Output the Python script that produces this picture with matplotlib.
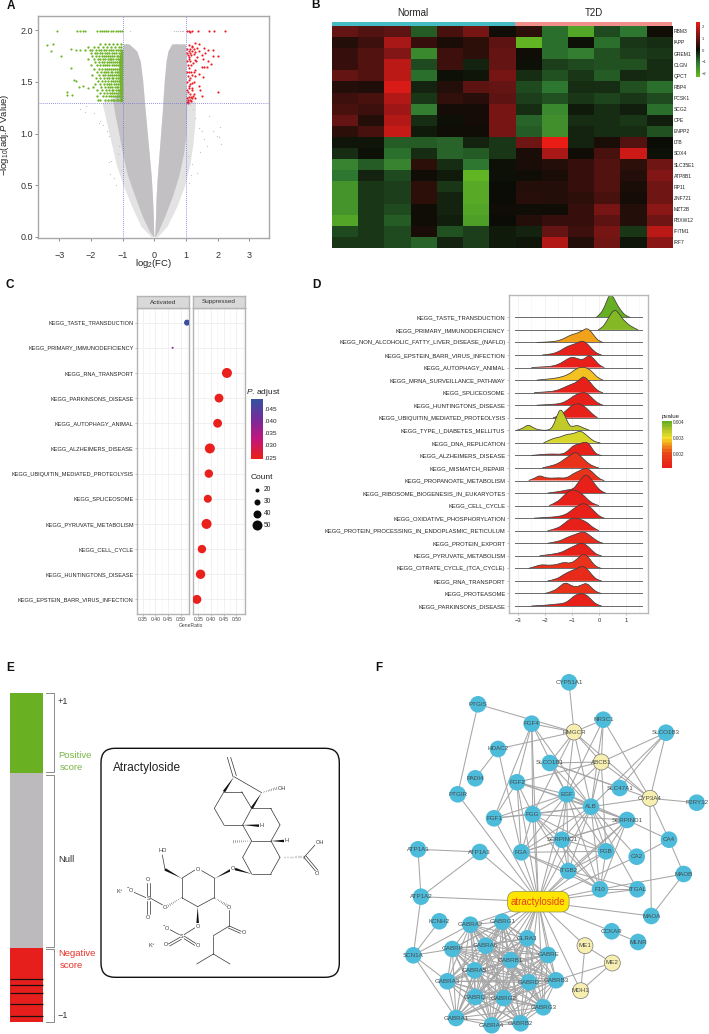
import itertools
import numpy as np
import matplotlib
matplotlib.use('Agg')
import matplotlib.pyplot as plt
from matplotlib.colors import LinearSegmentedColormap, Normalize
from matplotlib.patches import FancyBboxPatch, Polygon, Circle, PathPatch
from matplotlib.path import Path

plt.rcParams['font.family'] = ['Liberation Sans', 'DejaVu Sans']
plt.rcParams['mathtext.fontset'] = 'custom'
plt.rcParams['mathtext.rm'] = 'Liberation Sans'
plt.rcParams['mathtext.it'] = 'Liberation Sans:italic'

W, H = 709, 1034

# A: volcano, outline of the grey cloud and the points that can be read
grey_y = [0.0, 0.05, 0.2, 0.4, 0.6, 0.8, 1.0, 1.2, 1.3, 1.5, 1.7, 1.8, 1.87]
grey_left_out = [-0.02, -0.15, -0.38, -0.62, -0.85, -1.0, -1.12, -1.25, -1.3, -1.0, -1.0, -1.0, -0.98]
grey_left_in = [-0.01, -0.02, -0.03, -0.06, -0.1, -0.16, -0.22, -0.28, -0.31, -0.36, -0.44, -0.55, -0.8]
grey_right_in = [0.01, 0.02, 0.04, 0.06, 0.1, 0.15, 0.2, 0.25, 0.27, 0.31, 0.37, 0.43, 0.55]
grey_right_out = [0.02, 0.12, 0.33, 0.58, 0.78, 0.92, 1.0, 1.02, 1.02, 1.0, 1.0, 1.0, 0.98]
halo_y = [0.0, 0.1, 0.3, 0.5, 0.7, 0.9, 1.1, 1.3, 1.4]
halo_left = [-0.1, -0.42, -0.72, -0.98, -1.2, -1.35, -1.5, -1.65, -1.0]
halo_right = [0.1, 0.4, 0.72, 0.96, 1.12, 1.22, 1.28, 1.3, 1.02]

grey_x = [0.62, 0.68, 0.74, 0.8, 0.86, 0.92, -0.9, -0.78, -0.75, 0.7, 0.55, 0.58, -2.35, -2.2, -2.15, -1.9, -1.75,
          -1.7, -1.62, -1.5, -1.42, -1.38, -1.4, -1.28, -1.2, -1.42, -1.12, 1.12, 1.22, 1.3, 1.4, 1.5, 1.72, 1.58, 2.08,
          2.05, 2.12, 1.98, 1.85, 1.65, 1.45, 1.35, 1.2, 1.1, -0.65, -0.55, -0.58, -1.15, -1.05, 0.95, 1.05, 1.15]
grey_y2 = [1.99, 1.99, 1.99, 1.99, 1.99, 1.99, 1.87, 1.99, 1.84, 1.87, 1.84, 1.83, 1.24, 1.21, 1.27, 1.2, 1.1,
           1.12, 1.08, 1.02, 0.72, 0.73, 0.61, 0.57, 0.5, 0.98, 0.88, 1.28, 1.24, 1.15, 1.05, 1.02, 1.17, 0.95, 1.06,
           0.97, 0.9, 0.98, 1.02, 0.88, 0.82, 0.62, 0.7, 0.52, 1.82, 1.75, 1.7, 0.8, 0.65, 0.95, 0.78, 0.6]

green_core_y = [1.31, 1.45, 1.6, 1.72, 1.82]
green_core_x = [-1.08, -1.1, -1.12, -1.12, -1.06]
green_x = [-3.4, -3.19, -3.26, -2.95, -2.64, -2.47, -2.35, -2.64, -2.54, -2.47, -2.77, -2.75, -2.61, -2.37, -2.24, -2.08,
           -3.07, -2.43, -2.35, -2.25, -2.2, -1.82, -1.72, -1.65, -1.6, -1.52, -1.45, -1.38, -1.3, -1.22, -1.15, -1.08, -1.02]
green_y = [1.854, 1.867, 1.796, 1.754, 1.819, 1.806, 1.812, 1.634, 1.521, 1.511, 1.401, 1.369, 1.375, 1.45, 1.463, 1.44,
           1.99, 1.99, 1.99, 1.99, 1.99, 1.99, 1.99, 1.99, 1.99, 1.99, 1.99, 1.99, 1.99, 1.99, 1.99, 1.99, 1.99]
# rows of the dense green part: level, then x read along that level
green_rows = [
    (1.87, [-1.72, -1.55, -1.42, -1.3, -1.18, -1.05]),
    (1.84, [-2.1, -1.9, -1.78, -1.62, -1.48, -1.36, -1.24, -1.12, -1.04]),
    (1.81, [-2.2, -2.02, -1.95, -1.84, -1.76, -1.68, -1.6, -1.52, -1.44, -1.38, -1.3, -1.22, -1.16, -1.08]),
    (1.78, [-2.0, -1.88, -1.8, -1.72, -1.65, -1.57, -1.5, -1.42, -1.34, -1.27, -1.2, -1.12, -1.04]),
    (1.75, [-1.96, -1.84, -1.75, -1.66, -1.6, -1.53, -1.46, -1.4, -1.33, -1.26, -1.19, -1.14, -1.07]),
    (1.72, [-2.08, -1.9, -1.79, -1.7, -1.62, -1.55, -1.47, -1.41, -1.36, -1.29, -1.22, -1.16, -1.09]),
    (1.69, [-1.86, -1.73, -1.65, -1.58, -1.5, -1.44, -1.37, -1.31, -1.24, -1.18, -1.12]),
    (1.66, [-2.0, -1.82, -1.7, -1.62, -1.55, -1.48, -1.42, -1.34, -1.27, -1.21, -1.14, -1.06]),
    (1.63, [-1.9, -1.76, -1.66, -1.56, -1.5, -1.43, -1.36, -1.3, -1.23, -1.17, -1.1]),
    (1.6, [-1.82, -1.68, -1.6, -1.52, -1.46, -1.38, -1.32, -1.25, -1.19, -1.13]),
    (1.57, [-1.95, -1.75, -1.63, -1.54, -1.47, -1.4, -1.33, -1.27, -1.2, -1.14, -1.07]),
    (1.54, [-1.85, -1.7, -1.58, -1.49, -1.42, -1.35, -1.29, -1.22, -1.15, -1.09]),
    (1.51, [-1.78, -1.64, -1.55, -1.46, -1.38, -1.31, -1.25, -1.18, -1.12]),
    (1.48, [-1.88, -1.72, -1.6, -1.5, -1.43, -1.36, -1.28, -1.21, -1.15, -1.08]),
    (1.45, [-1.94, -1.68, -1.57, -1.47, -1.39, -1.32, -1.25, -1.19, -1.13]),
    (1.42, [-1.8, -1.65, -1.52, -1.44, -1.35, -1.3, -1.22, -1.16, -1.1]),
    (1.39, [-1.72, -1.58, -1.48, -1.4, -1.33, -1.27, -1.2, -1.14, -1.06]),
    (1.36, [-1.82, -1.62, -1.53, -1.43, -1.36, -1.29, -1.23, -1.17, -1.11]),
    (1.33, [-1.78, -1.7, -1.55, -1.46, -1.38, -1.31, -1.26, -1.19, -1.13, -1.07]),
]

red_x = [1.02, 1.08, 1.12, 1.2, 1.38, 1.72, 1.88, 2.23,
         1.08, 1.3, 1.4, 1.18, 1.58, 1.7, 1.85, 1.85, 2.0, 1.5, 1.6, 1.53, 1.42, 1.7, 1.78, 1.57, 1.66, 1.5, 1.3, 1.42, 1.55, 1.3, 1.2, 1.4, 2.0, 1.5, 1.2, 1.05,
         1.02, 1.04, 1.06, 1.08, 1.1, 1.12, 1.14, 1.16, 1.18, 1.2, 1.24, 1.26, 1.3, 1.34, 1.02, 1.05, 1.08, 1.11, 1.14, 1.17, 1.22, 1.28, 1.36, 1.02, 1.05, 1.08, 1.12, 1.15, 1.2, 1.25, 1.32, 1.04, 1.08, 1.1, 1.14, 1.18, 1.24, 1.02, 1.06, 1.1, 1.13, 1.18, 1.26, 1.03, 1.07, 1.1, 1.15, 1.22, 1.04, 1.07, 1.12, 1.16, 1.28, 1.45]
red_y = [1.99, 1.99, 1.98, 1.99, 1.99, 1.99, 1.99, 1.99,
         1.86, 1.88, 1.87, 1.85, 1.83, 1.81, 1.81, 1.75, 1.75, 1.76, 1.78, 1.72, 1.8, 1.7, 1.67, 1.65, 1.65, 1.65, 1.62, 1.58, 1.55, 1.56, 1.49, 1.46, 1.4, 1.36, 1.34, 1.31,
         1.78, 1.82, 1.76, 1.8, 1.74, 1.78, 1.82, 1.76, 1.8, 1.84, 1.77, 1.82, 1.79, 1.83, 1.7, 1.66, 1.72, 1.64, 1.7, 1.66, 1.68, 1.71, 1.74, 1.6, 1.56, 1.6, 1.54, 1.6, 1.57, 1.6, 1.7, 1.5, 1.46, 1.52, 1.48, 1.44, 1.5, 1.42, 1.4, 1.44, 1.38, 1.42, 1.38, 1.34, 1.33, 1.35, 1.35, 1.36, 1.31, 1.3, 1.33, 1.32, 1.34, 1.42]

# B: heat map
genes = ['RBM3', 'IAPP', 'GREM1', 'CLGN', 'QPCT', 'RBP4', 'PCSK1', 'SCG2', 'CPE', 'ENPP2',
         'LTB', 'SOX4', 'SLC35E1', 'ATP8B1', 'RP11', 'ZNF721', 'MZT2B', 'FBXW12', 'IFITM1', 'IRF7']
expr = [[1.0, .8, .9, -.8, .7, 1.2, .1, .4, -1.0, -1.9, -.6, -1.1, .1],
        [.3, .6, 1.7, .5, .2, .4, .9, -2.2, -1.0, 0.0, -1.0, -.4, -.3],
        [.5, .8, 1.3, -1.4, .6, .4, 1.0, .1, -1.0, -1.2, -.7, -.5, -.4],
        [.5, .8, 1.9, -.6, .6, -.2, 1.0, 0.0, -.5, -.6, -.7, -.7, -.3],
        [1.0, .8, 1.9, -1.0, 0.0, -.05, 1.2, -.3, -.7, -.4, -.8, -.25, -.3],
        [.3, .25, 2.2, -.2, .3, .9, 1.0, -.6, -1.1, -.3, -.3, -.7, -1.0],
        [.6, .7, 1.8, -.4, .45, .35, .9, -.5, -.7, -.4, -.55, -.4, -.6],
        [.7, .6, 1.6, -1.2, .15, .15, 1.2, -.3, -1.4, -.1, -.3, -.15, -1.0],
        [1.0, .3, 1.8, -.3, 0.0, .15, 1.2, -.9, -1.5, -.3, -.3, -.4, -.15],
        [.4, .7, 2.0, -.1, .1, .1, 1.2, -.8, -1.5, -.2, -.3, -.3, -.7],
        [-.05, -.05, -.8, -.8, -.9, -.2, -.4, 1.1, 2.4, -.2, .2, .8, .05],
        [-.3, 0.0, -1.0, -.3, -.9, -.8, -.4, .2, 1.7, .1, .7, 2.1, 0.0],
        [-1.3, -.8, -1.3, .4, -.3, -1.1, 0.0, .2, .3, .5, .8, .4, 1.1],
        [-1.1, -.2, -.6, .1, -.1, -2.2, 0.0, .1, .2, .5, .8, .3, 1.3],
        [-1.6, -.4, -.5, .4, -.4, -2.0, .05, .3, .3, .5, .8, .2, 1.1],
        [-1.6, -.4, -.5, .4, -.2, -2.0, .05, .35, .3, .4, .7, .15, 1.1],
        [-1.6, -.4, -.6, .1, -.2, -1.9, .1, .1, .1, .5, 1.2, .3, 1.4],
        [-1.9, -.4, -.8, .1, -.15, -1.8, .05, .3, .5, .5, .9, .3, 1.1],
        [-.6, -.4, -.6, .2, -.7, -.5, -.1, -.2, 1.0, .6, 1.2, -.4, 1.9],
        [-.4, -.4, -.6, -.9, -.2, -.5, -.1, -.05, 1.8, .3, 1.1, -.05, 1.4]]
n_normal = 7

# C: gsea dot plot
c_terms = ['KEGG_TASTE_TRANSDUCTION', 'KEGG_PRIMARY_IMMUNODEFICIENCY', 'KEGG_RNA_TRANSPORT', 'KEGG_PARKINSONS_DISEASE',
           'KEGG_AUTOPHAGY_ANIMAL', 'KEGG_ALZHEIMERS_DISEASE', 'KEGG_UBIQUITIN_MEDIATED_PROTEOLYSIS', 'KEGG_SPLICEOSOME',
           'KEGG_PYRUVATE_METABOLISM', 'KEGG_CELL_CYCLE', 'KEGG_HUNTINGTONS_DISEASE', 'KEGG_EPSTEIN_BARR_VIRUS_INFECTION']
c_ratio = [.525, .468, .463, .432, .4265, .396, .392, .388, .383, .365, .3595, .345]
c_count = [30, 10, 50, 44, 44, 50, 42, 40, 50, 42, 47, 45]
c_padj = [.048, .040, .025, .025, .025, .025, .025, .025, .025, .025, .025, .025]
c_facet = [0, 0, 1, 1, 1, 1, 1, 1, 1, 1, 1, 1]
count_legend = [20, 30, 40, 50]

# D: ridge plot, x and height (in rows) read along every ridge
d_terms = ['KEGG_TASTE_TRANSDUCTION', 'KEGG_PRIMARY_IMMUNODEFICIENCY', 'KEGG_NON_ALCOHOLIC_FATTY_LIVER_DISEASE_(NAFLD)',
           'KEGG_EPSTEIN_BARR_VIRUS_INFECTION', 'KEGG_AUTOPHAGY_ANIMAL', 'KEGG_MRNA_SURVEILLANCE_PATHWAY', 'KEGG_SPLICEOSOME',
           'KEGG_HUNTINGTONS_DISEASE', 'KEGG_UBIQUITIN_MEDIATED_PROTEOLYSIS', 'KEGG_TYPE_I_DIABETES_MELLITUS',
           'KEGG_DNA_REPLICATION', 'KEGG_ALZHEIMERS_DISEASE', 'KEGG_MISMATCH_REPAIR', 'KEGG_PROPANOATE_METABOLISM',
           'KEGG_RIBOSOME_BIOGENESIS_IN_EUKARYOTES', 'KEGG_CELL_CYCLE', 'KEGG_OXIDATIVE_PHOSPHORYLATION',
           'KEGG_PROTEIN_PROCESSING_IN_ENDOPLASMIC_RETICULUM', 'KEGG_PROTEIN_EXPORT', 'KEGG_PYRUVATE_METABOLISM',
           'KEGG_CITRATE_CYCLE_(TCA_CYCLE)', 'KEGG_RNA_TRANSPORT', 'KEGG_PROTEASOME', 'KEGG_PARKINSONS_DISEASE']
d_pvalue = [.0040, .0037, .0025, .0012, .0012, .0027, .0012, .0013, .0012, .0033, .0031, .0012, .0017, .0016,
            .0013, .0012, .0012, .0012, .0014, .0013, .0017, .0014, .0017, .0012]
d_ridges = [
    [(-.1, 0), (.05, .25), (.2, .8), (.33, 1.55), (.43, 1.9), (.55, 1.55), (.7, .9), (.85, .45), (1.0, .1), (1.15, 0)],
    [(-.03, 0), (.1, .15), (.25, .55), (.4, 1.15), (.55, 1.6), (.68, 1.5), (.85, .95), (1.0, .6), (1.2, .25), (1.45, 0)],
    [(-2.3, 0), (-1.9, .03), (-1.55, .1), (-1.3, .3), (-1.05, .6), (-.85, .7), (-.6, .95), (-.45, 1.15), (-.3, .9), (-.15, .45), (0, .1), (.15, 0)],
    [(-2.1, 0), (-1.8, .05), (-1.5, .25), (-1.25, .6), (-1.05, .78), (-.8, .95), (-.64, 1.15), (-.45, .95), (-.25, .45), (-.05, .08), (.1, 0)],
    [(-2.5, 0), (-2.1, .05), (-1.7, .1), (-1.4, .35), (-1.2, .65), (-1.0, .85), (-.8, .72), (-.62, .6), (-.45, .85), (-.33, 1.0), (-.15, .6), (.05, .1), (.2, 0)],
    [(-2.3, 0), (-1.9, .08), (-1.6, .15), (-1.3, .3), (-1.05, .55), (-.85, .9), (-.65, 1.05), (-.4, .95), (-.2, .55), (0, .1), (.15, 0)],
    [(-2.4, 0), (-2.0, .05), (-1.6, .13), (-1.3, .4), (-1.05, .65), (-.85, .8), (-.65, 1.18), (-.55, 1.3), (-.35, .9), (-.15, .35), (.05, .03), (.15, 0)],
    [(-2.3, 0), (-1.8, .05), (-1.4, .13), (-1.15, .4), (-.9, .8), (-.6, 1.06), (-.4, .9), (-.2, .45), (0, .1), (.15, 0)],
    [(-1.7, 0), (-1.45, .15), (-1.2, .6), (-1.0, 1.0), (-.8, 1.15), (-.6, 1.0), (-.4, .65), (-.2, .2), (-.05, 0)],
    [(-3.05, 0), (-2.85, .1), (-2.62, .48), (-2.4, .15), (-2.15, 0), (-1.85, 0), (-1.7, .3), (-1.55, 1.2), (-1.42, 1.75), (-1.25, 1.15), (-1.1, .35), (-.95, .3), (-.8, .42), (-.6, .2), (-.35, 0)],
    [(-2.05, 0), (-1.85, .2), (-1.65, .38), (-1.45, .45), (-1.2, .68), (-.95, .72), (-.7, .98), (-.5, .7), (-.3, .3), (-.1, .03), (.05, 0)],
    [(-2.5, 0), (-2.1, .08), (-1.7, .12), (-1.35, .08), (-1.15, .35), (-.95, .8), (-.75, .9), (-.5, 1.1), (-.35, .9), (-.2, .35), (-.05, .03), (.1, 0)],
    [(-2.1, 0), (-1.8, .15), (-1.5, .35), (-1.25, .75), (-1.0, 1.1), (-.87, 1.28), (-.7, 1.0), (-.45, .45), (-.2, .1), (0, 0)],
    [(-2.6, 0), (-2.35, .2), (-2.2, .42), (-2.0, .22), (-1.75, .18), (-1.5, .22), (-1.2, .18), (-.95, .55), (-.7, .8), (-.5, 1.02), (-.3, .8), (-.1, .35), (.1, .03), (.2, 0)],
    [(-1.9, 0), (-1.5, .1), (-1.2, .25), (-.95, .3), (-.8, .75), (-.6, 1.3), (-.47, 1.5), (-.3, 1.15), (-.1, .55), (.1, .1), (.25, 0)],
    [(-1.85, 0), (-1.55, .25), (-1.3, .8), (-1.05, 1.27), (-.85, 1.22), (-.6, .9), (-.4, .45), (-.2, .12), (0, 0)],
    [(-2.4, 0), (-2.0, .05), (-1.6, .1), (-1.25, .25), (-1.0, .65), (-.75, 1.05), (-.55, 1.2), (-.35, .95), (-.15, .5), (.05, .08), (.2, 0)],
    [(-1.9, 0), (-1.55, .15), (-1.3, .55), (-1.05, .98), (-.85, 1.02), (-.6, .85), (-.4, .6), (-.2, .2), (0, 0)],
    [(-1.9, 0), (-1.5, .12), (-1.2, .45), (-.95, .65), (-.7, .85), (-.55, .92), (-.35, .65), (-.15, .3), (.05, .05), (.15, 0)],
    [(-2.2, 0), (-1.8, .1), (-1.4, .25), (-1.15, .55), (-.9, .8), (-.65, 1.06), (-.45, .85), (-.25, .4), (-.05, .05), (.1, 0)],
    [(-2.6, 0), (-2.35, .15), (-2.15, .3), (-1.85, .24), (-1.55, .3), (-1.3, .5), (-1.05, .38), (-.8, .75), (-.6, 1.18), (-.4, .95), (-.2, .3), (0, .03), (.1, 0)],
    [(-1.9, 0), (-1.6, .1), (-1.35, .45), (-1.1, .75), (-.85, .95), (-.62, 1.2), (-.45, 1.0), (-.25, .45), (-.05, .05), (.1, 0)],
    [(-2.0, 0), (-1.7, .15), (-1.45, .55), (-1.25, .9), (-1.05, .65), (-.85, .5), (-.62, .7), (-.45, .84), (-.25, .4), (-.05, .05), (.1, 0)],
    [(-2.5, 0), (-2, .05), (-1.6, .15), (-1.3, .2), (-1.1, .45), (-.9, .85), (-.7, 1.0), (-.5, .95), (-.3, .55), (-.1, .1), (.1, 0)],
]

# E: score bar, in page pixels
bar_tops = [693.3, 773, 948.3]
bar_bottoms = [773, 948.3, 1022]
bar_colors = ['#6ab023', '#bcbabc', '#e61f1c']
hit_lines = [978.7, 984.7, 993.3, 1004.3, 1016.3]

# atractyloside drawing, coordinates as read on a 3x crop of the panel
mol_bonds = [(682, 562, 699, 620), (692, 562, 709, 617), (702, 620, 785, 668), (672, 665, 725, 665), (725, 665, 755, 715),
             (672, 665, 643, 715), (643, 715, 672, 765), (672, 765, 728, 765), (728, 765, 755, 715), (755, 715, 812, 715),
             (812, 715, 840, 765), (840, 765, 813, 813), (813, 813, 755, 813), (755, 813, 728, 765), (813, 813, 840, 862),
             (840, 862, 812, 912), (812, 912, 755, 912), (755, 912, 728, 862), (728, 862, 755, 813), (912, 862, 945, 825),
             (912, 862, 948, 905), (918, 858, 954, 901), (645, 925, 605, 902), (585, 900, 545, 925), (545, 925, 545, 983),
             (545, 983, 593, 1010), (593, 1010, 643, 983), (643, 983, 643, 925), (495, 898, 487, 855), (490, 1006, 452, 985),
             (441, 980, 441, 938), (449, 980, 449, 938), (441, 992, 441, 1032), (449, 992, 449, 1032), (438, 983, 400, 966),
             (587, 1072, 552, 1094), (538, 1094, 508, 1078), (540, 1102, 505, 1122), (544, 1108, 509, 1128), (552, 1098, 587, 1120), (549, 1104, 584, 1126),
             (688, 1020, 688, 1068), (688, 1068, 724, 1084), (685, 1074, 721, 1090), (688, 1068, 640, 1097), (640, 1097, 640, 1152),
             (640, 1152, 590, 1182), (640, 1152, 690, 1182)]
mol_wedges = [(702, 620, 672, 665), (785, 668, 755, 715), (728, 765, 778, 767), (813, 813, 852, 813), (755, 912, 705, 897),
              (645, 925, 698, 897), (545, 925, 495, 898), (593, 1010, 593, 1060)]
mol_hashes = [(785, 668, 830, 655), (755, 813, 700, 815), (840, 862, 912, 862), (545, 983, 500, 1010), (643, 983, 682, 1007)]
mol_labels = [('OH', 846, 655), ('H', 784, 767), ('H', 861, 813), ('OH', 959, 816), ('O', 952, 910), ('O', 698, 897), ('O', 593, 898),
              ('HO', 487, 842), ('O', 445, 928), ('S', 445, 986), ('O', 445, 1042), ('O', 494, 1012), ('$^{-}$O', 390, 961), ('K$^{+}$', 360, 965),
              ('O', 593, 1068), ('S', 545, 1098), ('$^{-}$O', 498, 1073), ('O', 497, 1125), ('O', 595, 1127), ('K$^{+}$', 457, 1128), ('O', 687, 1012), ('O', 732, 1088)]

# F: network, positions in page pixels
net_pos = {'CYP51A1': (569, 682.3), 'PTGIS': (478, 704.3), 'FGF4': (531.7, 723.7), 'HMGCR': (574, 732), 'NR3C1': (603.3, 719.7),
           'SLCO1B3': (666, 732.7), 'HDAC2': (498, 749), 'ABCB1': (601.3, 762), 'SLCO1B1': (549.7, 763), 'PADI4': (475.3, 778.3),
           'FGF2': (517, 782.3), 'SLC47A1': (619.7, 788), 'EGF': (566.7, 794.3), 'PTGIR': (457.7, 794.3), 'CYP3A4': (650, 798.3),
           'P2RY12': (696.7, 802.7), 'ALB': (591, 806.7), 'FGG': (532.7, 814.3), 'FGF1': (494, 818.3), 'SERPIND1': (627, 820),
           'CA4': (669, 839.7), 'SERPINC1': (562, 839.7), 'ATP1A1': (418, 849.3), 'ATP1A3': (479.7, 852), 'FGA': (521.3, 852.3),
           'FGB': (606, 851.3), 'CA2': (636.7, 856.7), 'ITGB2': (568.3, 871), 'MAOB': (683.7, 874), 'F10': (600, 889.3),
           'ITGAL': (637.3, 889.3), 'ATP1A2': (421, 896.7), 'MAOA': (651.3, 916), 'KCNH2': (439.3, 921.3), 'GABRA2': (470.3, 924.7),
           'GABRG1': (502.3, 921.7), 'CCKAR': (611.7, 931.3), 'GLRA3': (527.3, 938.3), 'MLNR': (638, 942), 'ME1': (585, 945.7),
           'GABRA6': (485.7, 945.7), 'GABRP': (452.3, 949), 'SCN1A': (413.3, 955.3), 'GABRE': (548, 955), 'ME2': (612.3, 963),
           'GABRB1': (510.7, 960.3), 'GABRA5': (474.7, 970.3), 'GABRA3': (447.3, 981.3), 'GABRD': (529, 982.3), 'GABRB3': (556, 980.3),
           'MDH1': (580.7, 990.7), 'GABRQ': (475.3, 997), 'GABRG2': (503.7, 998), 'GABRG3': (543.3, 1007.3), 'GABRA1': (456, 1018),
           'GABRA4': (491.7, 1025.3), 'GABRB2': (520.7, 1023.3)}
yellow_nodes = ['HMGCR', 'ABCB1', 'CYP3A4', 'ME1', 'ME2', 'MDH1']
hub_pos = (538.3, 901.7)
hub_links = ['FGF1', 'FGF2', 'FGF4', 'FGG', 'FGA', 'ITGB2', 'SERPINC1', 'EGF', 'ALB', 'FGB', 'CA2', 'F10', 'ITGAL', 'PTGIR', 'ATP1A3',
             'ATP1A2', 'MAOA', 'SERPIND1', 'CCKAR', 'ME1', 'MDH1', 'GLRA3', 'GABRA2', 'GABRG1', 'GABRA6', 'GABRE', 'GABRB1', 'GABRA5',
             'GABRD', 'GABRB3', 'GABRQ', 'GABRG2', 'GABRG3', 'GABRP']
gaba_nodes = ['GABRA2', 'GABRG1', 'GLRA3', 'GABRA6', 'GABRP', 'GABRE', 'GABRB1', 'GABRA5', 'GABRA3', 'GABRD', 'GABRB3', 'GABRQ',
              'GABRG2', 'GABRG3', 'GABRA1', 'GABRA4', 'GABRB2']
core_nodes = ['EGF', 'ALB', 'FGG', 'FGA', 'FGB', 'SERPINC1', 'F10', 'ITGB2', 'SERPIND1']
net_links = [('HMGCR', 'CYP51A1'), ('HMGCR', 'PTGIS'), ('HMGCR', 'FGF4'), ('HMGCR', 'NR3C1'), ('HMGCR', 'HDAC2'), ('HMGCR', 'ABCB1'),
             ('HMGCR', 'SLCO1B1'), ('HMGCR', 'EGF'), ('HMGCR', 'ALB'), ('HMGCR', 'FGG'), ('HMGCR', 'CYP3A4'), ('FGF4', 'FGF2'), ('FGF4', 'FGF1'),
             ('FGF4', 'EGF'), ('FGF4', 'ALB'), ('FGF4', 'FGG'), ('PTGIS', 'PTGIR'), ('HDAC2', 'PADI4'), ('HDAC2', 'FGA'), ('NR3C1', 'CYP3A4'),
             ('NR3C1', 'ALB'), ('NR3C1', 'ABCB1'), ('NR3C1', 'EGF'), ('SLCO1B3', 'ABCB1'), ('SLCO1B3', 'CYP3A4'), ('SLCO1B3', 'SLC47A1'),
             ('SLCO1B3', 'ALB'), ('ABCB1', 'FGF2'), ('ABCB1', 'SLCO1B1'), ('ABCB1', 'CYP3A4'), ('ABCB1', 'ALB'), ('ABCB1', 'EGF'), ('ABCB1', 'FGB'),
             ('SLCO1B1', 'SLC47A1'), ('SLCO1B1', 'ALB'), ('SLCO1B1', 'EGF'), ('SLCO1B1', 'CYP3A4'), ('FGF2', 'EGF'), ('FGF2', 'ALB'), ('FGF2', 'FGF1'),
             ('FGF2', 'FGG'), ('FGF2', 'FGA'), ('FGF2', 'SERPIND1'), ('EGF', 'FGF1'), ('ALB', 'FGF1'), ('ALB', 'CA2'), ('ALB', 'ITGAL'), ('ALB', 'CYP3A4'),
             ('FGG', 'FGF1'), ('SERPIND1', 'CA4'), ('CA2', 'CA4'), ('ITGB2', 'ITGAL'), ('F10', 'ITGAL'), ('F10', 'MAOB'), ('CYP3A4', 'CA4'),
             ('CYP3A4', 'MAOA'), ('CYP3A4', 'P2RY12'), ('CA4', 'MAOB'), ('MAOB', 'MAOA'), ('ATP1A1', 'ATP1A3'), ('ATP1A1', 'ATP1A2'), ('ATP1A3', 'ATP1A2'),
             ('ATP1A2', 'SCN1A'), ('KCNH2', 'SCN1A'), ('SCN1A', 'GABRA2'), ('SCN1A', 'GABRP'), ('SCN1A', 'GABRA3'), ('SCN1A', 'GABRA1'), ('CCKAR', 'MLNR'),
             ('ME1', 'ME2'), ('ME1', 'MDH1'), ('ME2', 'MDH1'), ('ME2', 'GABRB3')]


def axpx(x0, y0, x1, y1):
    return fig.add_axes([x0 / W, 1 - y1 / H, (x1 - x0) / W, (y1 - y0) / H])


def ridge_path(xs, ys, closed=False):
    # the read points act as control points of a quadratic curve
    verts = [(xs[0], ys[0])]
    codes = [Path.MOVETO]
    for i in range(1, len(xs) - 1):
        end = ((xs[i] + xs[i + 1]) / 2, (ys[i] + ys[i + 1]) / 2) if i < len(xs) - 2 else (xs[-1], ys[-1])
        verts += [(xs[i], ys[i]), end]
        codes += [Path.CURVE3, Path.CURVE3]
    if closed:
        verts.append((xs[0], ys[0]))
        codes.append(Path.LINETO)
    return Path(verts, codes)


fig = plt.figure(figsize=(W / 100, H / 100), dpi=100)
page = fig.add_axes([0, 0, 1, 1])
page.set_xlim(0, W)
page.set_ylim(H, 0)
page.axis('off')

for letter, x, y in [('A', 11, 6), ('B', 316, 5), ('C', 10, 285), ('D', 316, 285), ('E', 10, 668), ('F', 379, 668)]:
    page.text(x, y, letter, fontsize=8.5, fontweight='bold', ha='center', va='center', color='#111111')

# ---- A
ax = axpx(38.3, 16, 269, 238)
ax.set_xlim(-3.66, 3.62)
ax.set_ylim(-0.013, 2.14)
ax.fill_betweenx(halo_y, halo_left, [0] * len(halo_y), color='#e4e3e4', lw=0)
ax.fill_betweenx(halo_y, [0] * len(halo_y), halo_right, color='#e4e3e4', lw=0)
ax.fill_betweenx(grey_y, grey_left_in, grey_right_in, color='white', lw=0)
ax.fill_betweenx(grey_y, grey_left_out, grey_left_in, color='#c2c0c2', lw=0)
ax.fill_betweenx(grey_y, grey_right_in, grey_right_out, color='#c2c0c2', lw=0)
ax.scatter(grey_x, grey_y2, s=0.8, color='#c4c2c4', lw=0)
ax.fill_betweenx(green_core_y, green_core_x, -1, color='#74b52c', lw=0)
row_x = [v for lvl, xs in green_rows for v in xs]
row_y = [lvl for lvl, xs in green_rows for v in xs]
ax.scatter(row_x, row_y, s=2.8, color='#6fb426', lw=0)
ax.scatter(green_x, green_y, s=2.4, color='#6fb426', lw=0)
ax.scatter(red_x, red_y, s=2.4, color='#ec1c24', lw=0)
for v in [-1, 1]:
    ax.axvline(v, color='#6f6fd8', lw=0.6, ls=(0, (1, 1.5)))
ax.axhline(1.3, color='#6f6fd8', lw=0.6, ls=(0, (1, 1.5)))
for s in ax.spines.values():
    s.set_color('#a8a8a8')
    s.set_linewidth(1.0)
ax.set_xticks([-3, -2, -1, 0, 1, 2, 3])
ax.set_xticklabels(['\u22123', '\u22122', '\u22121', '0', '1', '2', '3'])
ax.set_yticks([0, 0.5, 1, 1.5, 2])
ax.set_yticklabels(['0.0', '0.5', '1.0', '1.5', '2.0'])
ax.tick_params(labelsize=6.5, length=2, width=0.6, color='#777777', labelcolor='#333333', pad=7)
ax.tick_params(axis='y', pad=2)
page.text(154, 264, r'log$_2$(FC)', fontsize=6.8, ha='center', va='center', color='#222222')
page.text(5, 135, r'$-$log$_{10}$(adj.$\mathit{P}$ Value)', fontsize=6.8, rotation=90, ha='center', va='center', color='#222222')

# ---- B
heat_cmap = LinearSegmentedColormap.from_list('heat', ['#66bb22', '#2f7a32', '#0c0c06', '#7a1616', '#ea1c16'])
ax = axpx(331.7, 26.3, 672, 248.3)
ax.imshow(expr, cmap=heat_cmap, vmin=-2.3, vmax=2.4, aspect='auto', interpolation='nearest')
ax.axis('off')
for i, g in enumerate(genes):
    page.text(673.5, 26.3 + (i + 0.5) * 11.1, g, fontsize=3.6, va='center', color='#222222')
ax = axpx(331.7, 22, 672, 26)
ax.barh(0, n_normal, left=0, height=1, color='#45bcc4')
ax.barh(0, len(expr[0]) - n_normal, left=n_normal, height=1, color='#f28e8c')
ax.set_xlim(0, len(expr[0]))
ax.set_ylim(-0.5, 0.5)
ax.axis('off')
page.text(413, 12.7, 'Normal', fontsize=7, ha='center', va='center', color='#222222')
page.text(594, 12.7, 'T2D', fontsize=7, ha='center', va='center', color='#222222')
ax = axpx(696, 22, 700, 77)
ax.imshow(np.linspace(2.4, -2.3, 100).reshape(-1, 1), cmap=heat_cmap, vmin=-2.3, vmax=2.4, aspect='auto', extent=[0, 1, -2.3, 2.4])
ax.set_xticks([])
ax.yaxis.tick_right()
ax.set_yticks([-2, -1, 0, 1, 2])
ax.set_yticklabels(['\u22122', '\u22121', '0', '1', '2'])
ax.tick_params(labelsize=3, length=0, pad=1.5, labelcolor='#333333')
for s in ax.spines.values():
    s.set_visible(False)

# ---- C
padj_cmap = LinearSegmentedColormap.from_list('padj', ['#e9201c', '#c2157f', '#7a2a9a', '#3a4fa2'])
padj_norm = Normalize(.025, .048)
rows = np.arange(len(c_terms))
c_xlim = (.3287, .5328)
for k, (x0, x1, title) in enumerate([(137.3, 189, 'Activated'), (192.7, 244.7, 'Suppressed')]):
    ax = axpx(x0, 308.3, x1, 614)
    ax.set_xlim(*c_xlim)
    ax.set_ylim(len(c_terms) - 0.42, -0.57)
    ax.set_axisbelow(True)
    ax.set_xticks([.35, .40, .45, .50])
    ax.set_xticklabels(['0.35', '0.40', '0.45', '0.50'])
    ax.set_xticks([.375, .425, .475, .525], minor=True)
    ax.set_yticks(rows)
    ax.grid(True, which='major', color='#ececec', lw=0.5)
    ax.grid(True, which='minor', axis='x', color='#f3f3f3', lw=0.4)
    ax.tick_params(which='minor', length=0)
    ax.tick_params(axis='x', labelsize=3.6, length=1.3, width=0.4, pad=1.2, labelcolor='#444444', color='#888888')
    sel = [i for i in rows if c_facet[i] == k]
    dia = [4 + (c_count[i] - 20) * 0.2 for i in sel]
    ax.scatter([c_ratio[i] for i in sel], sel, s=[(d * 0.72) ** 2 for d in dia], c=[c_padj[i] for i in sel], cmap=padj_cmap, norm=padj_norm, lw=0, zorder=3)
    if k == 0:
        ax.set_yticklabels(c_terms)
        ax.tick_params(axis='y', labelsize=4.1, length=1.6, width=0.4, pad=1, labelcolor='#222222', color='#888888')
    else:
        ax.tick_params(axis='y', left=False, labelleft=False)
    for s in ax.spines.values():
        s.set_color('#b4b4b4')
        s.set_linewidth(1.0)
    st = axpx(x0, 295.7, x1, 308.3)
    st.set_xticks([])
    st.set_yticks([])
    st.set_facecolor('#d9d9d9')
    for s in st.spines.values():
        s.set_color('#b4b4b4')
        s.set_linewidth(1.0)
    st.text(0.5, 0.5, title, transform=st.transAxes, fontsize=4.6, ha='center', va='center', color='#333333')
page.text(191, 625.7, 'GeneRatio', fontsize=3.6, ha='center', va='center', color='#444444')
page.text(246, 393, r'$\mathit{P}$. adjust', fontsize=6, va='center', color='#222222')
ax = axpx(250.7, 399, 262.3, 459)
top_val = .025 + (457.7 - 399) / 2460
ax.imshow(np.linspace(top_val, .0245, 100).reshape(-1, 1), cmap=padj_cmap, norm=padj_norm, aspect='auto', extent=[0, 1, .0245, top_val])
ax.set_xticks([])
ax.yaxis.tick_right()
ax.set_yticks([.025, .03, .035, .04, .045])
ax.set_yticklabels(['.025', '.030', '.035', '.040', '.045'])
ax.tick_params(labelsize=4.6, length=0, pad=1.5, labelcolor='#222222')
for s in ax.spines.values():
    s.set_visible(False)
page.text(250.5, 477.7, 'Count', fontsize=6, va='center', color='#222222')
for i, c in enumerate(count_legend):
    d = 4 + (c - 20) * 0.2
    page.scatter(257.3, 489.7 + i * 11.9, s=(d * 0.72) ** 2, color='#0b0b0b', lw=0)
    page.text(264, 489.7 + i * 11.9, str(c), fontsize=4.8, va='center', color='#222222')

# ---- D
ridge_cmap = LinearSegmentedColormap.from_list(
    'ridge', [(0, '#e8201a'), (.3, '#e8481a'), (.42, '#ee7a1a'), (.53, '#f4b01c'), (.65, '#f2e22a'), (.72, '#d3d62a'), (.8, '#bcc92a'), (1, '#66af22')], N=15)
ridge_norm = Normalize(.00112, .00406)
ax = axpx(509, 295, 648.3, 613.3)
ax.set_xlim(-3.33, 1.826)
row_h = 12.55
ybase = len(d_terms) - 1
ax.set_ylim(-(613.3 - 606) / row_h, (606 - 295) / row_h)
ax.set_axisbelow(True)
ax.set_xticks([-3, -2, -1, 0, 1])
ax.set_xticklabels(['\u22123', '\u22122', '\u22121', '0', '1'])
ax.set_xticks([-2.5, -1.5, -.5, .5, 1.5], minor=True)
ax.grid(True, which='major', axis='x', color='#ececec', lw=0.5)
ax.grid(True, which='minor', axis='x', color='#f4f4f4', lw=0.4)
ax.tick_params(which='minor', length=0)
ax.set_yticks(ybase - np.arange(len(d_terms)))
ax.set_yticklabels(d_terms)
ax.tick_params(axis='y', labelsize=4.2, length=1.6, width=0.4, pad=1, labelcolor='#222222', color='#888888')
ax.tick_params(axis='x', labelsize=4.2, length=1.6, width=0.4, pad=1.5, labelcolor='#333333', color='#888888')
for i, ridge in enumerate(d_ridges):
    base = ybase - i
    xs = [p[0] for p in ridge]
    ys = [base + p[1] for p in ridge]
    col = ridge_cmap(ridge_norm(d_pvalue[i]))
    z = 2 + i
    ax.add_patch(PathPatch(ridge_path(xs, ys, closed=True), fc=col, ec='none', zorder=z))
    ax.plot([-3.1, 1.6], [base, base], color='#6a6a6a', lw=0.7, zorder=z)
    ax.add_patch(PathPatch(ridge_path(xs, ys), fc='none', ec='#3c3c3c', lw=0.55, zorder=z))
for s in ax.spines.values():
    s.set_color('#b9b9b9')
    s.set_linewidth(1.0)
page.text(662, 416.7, 'pvalue', fontsize=4.4, va='center', color='#222222')
ax = axpx(661.7, 420.7, 671, 468.3)
ax.imshow(np.linspace(.00406, .00112, 100).reshape(-1, 1), cmap=ridge_cmap, norm=ridge_norm, aspect='auto', extent=[0, 1, .00112, .00406])
ax.set_xticks([])
ax.yaxis.tick_right()
ax.set_yticks([.002, .003, .004])
ax.set_yticklabels(['0.002', '0.003', '0.004'])
ax.tick_params(labelsize=3.4, length=0, pad=1.5, labelcolor='#333333')
for s in ax.spines.values():
    s.set_visible(False)

# ---- E
page.bar([26.2] * 3, np.subtract(bar_bottoms, bar_tops), bottom=bar_tops, width=33, color=bar_colors, lw=0)
page.hlines(hit_lines, 9.7, 42.7, color='#1a1010', lw=0.9)
for y0, y1 in [(693.3, 772), (775, 947), (949.3, 1022)]:
    page.plot([45.7, 54.3, 54.3, 45.7], [y0, y0, y1, y1], color='#8a8a8a', lw=0.7)
page.text(58, 701.7, '+1', fontsize=6.6, va='center', color='#333333')
page.text(58, 755.7, 'Positive', fontsize=6.8, va='center', color='#7ab648')
page.text(59.5, 767, 'score', fontsize=6.8, va='center', color='#7ab648')
page.text(58, 859.3, 'Null', fontsize=6.8, va='center', color='#333333')
page.text(58, 954, 'Negative', fontsize=6.8, va='center', color='#e8302a')
page.text(59.5, 965.7, 'score', fontsize=6.8, va='center', color='#e8302a')
page.text(58, 1015, '\u22121', fontsize=6.6, va='center', color='#333333')
page.add_patch(FancyBboxPatch((101 + 14, 748.3 + 14), 238.3 - 28, 229 - 28, boxstyle='round,pad=14,rounding_size=14', fc='white', ec='#111111', lw=1.0))
page.text(113.3, 768, 'Atractyloside', fontsize=8.6, va='center', color='#222222')


def mx(v):
    return v / 3


def my(v):
    return 570 + v / 3


for x0, y0, x1, y1 in mol_bonds:
    page.plot([mx(x0), mx(x1)], [my(y0), my(y1)], color='#333333', lw=0.5, solid_capstyle='round')
for x0, y0, x1, y1 in mol_wedges:
    dx, dy = mx(x1) - mx(x0), my(y1) - my(y0)
    n = np.hypot(dx, dy)
    ox, oy = -dy / n * 1.3, dx / n * 1.3
    page.add_patch(Polygon([(mx(x0), my(y0)), (mx(x1) + ox, my(y1) + oy), (mx(x1) - ox, my(y1) - oy)], fc='#111111', ec='none'))
for x0, y0, x1, y1 in mol_hashes:
    dx, dy = mx(x1) - mx(x0), my(y1) - my(y0)
    n = np.hypot(dx, dy)
    for t in np.linspace(0.1, 1, 9):
        ox, oy = -dy / n * 1.3 * t, dx / n * 1.3 * t
        cx, cy = mx(x0) + dx * t, my(y0) + dy * t
        page.plot([cx - ox, cx + ox], [cy - oy, cy + oy], color='#333333', lw=0.3)
for s, x, y in mol_labels:
    page.text(mx(x), my(y), s, fontsize=4, ha='center', va='center', color='#333333',
              bbox=dict(fc='white', ec='none', pad=0.1))

# ---- F
for a, b in net_links + list(itertools.combinations(gaba_nodes, 2)) + list(itertools.combinations(core_nodes, 2)):
    xa, ya = net_pos[a]
    xb, yb = net_pos[b]
    page.plot([xa, xb], [ya, yb], color='#a6a6a6', lw=0.75, zorder=2)
for n in hub_links:
    page.plot([hub_pos[0], net_pos[n][0]], [hub_pos[1], net_pos[n][1]], color='#a6a6a6', lw=0.75, zorder=2)
for n, (x, y) in net_pos.items():
    if n in yellow_nodes:
        page.add_patch(Circle((x, y), 8, fc='#f7efb0', ec='#777777', lw=0.5, zorder=3))
    else:
        page.add_patch(Circle((x, y), 8.3, fc='#4dbcdb', ec='none', zorder=3))
    page.text(x, y, n, fontsize=4.5, ha='center', va='center', color='#4a4a4a', zorder=4)
page.add_patch(FancyBboxPatch((hub_pos[0] - 22.5, hub_pos[1] - 2), 45, 4, boxstyle='round,pad=8.3,rounding_size=8.3', fc='#ffe600', ec='#8a8a50', lw=0.5, zorder=3))
page.text(hub_pos[0], hub_pos[1], 'atractyloside', fontsize=7, ha='center', va='center', color='#e8401c', zorder=4)

page.set_xlim(0, W)
page.set_ylim(H, 0)
fig.savefig('out.png', dpi=100)
